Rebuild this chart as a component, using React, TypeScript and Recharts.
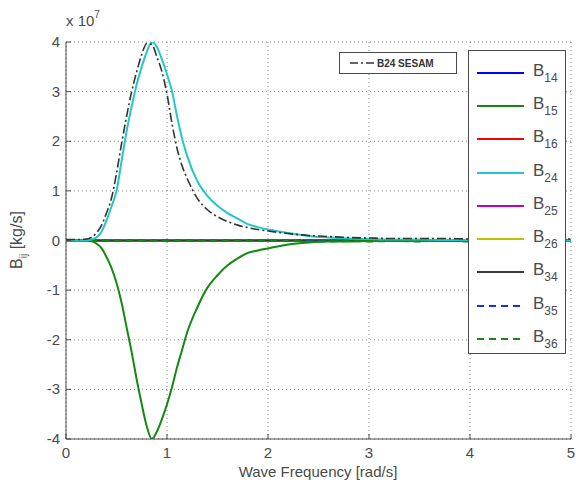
import { LineChart, Line, XAxis, YAxis, CartesianGrid, Legend } from 'recharts';

// wave frequency [rad/s]
const freq = [0, 0.1, 0.2, 0.25, 0.3, 0.35, 0.4, 0.45, 0.5, 0.55, 0.6, 0.65, 0.7, 0.75, 0.8, 0.85, 0.9, 0.95, 1.0, 1.05, 1.1, 1.15, 1.2, 1.3, 1.4, 1.5, 1.6, 1.7, 1.8, 1.9, 2.0, 2.2, 2.4, 2.6, 2.8, 3.0, 3.25, 3.5, 3.75, 4.0, 4.25, 4.5, 4.75, 5.0];

// damping coefficients, units of 1e7 kg/s
const b24 = [0, 0, 0, 0.02, 0.06, 0.17, 0.4, 0.68, 1.0, 1.6, 2.2, 2.7, 3.15, 3.5, 3.8, 4.0, 3.9, 3.65, 3.35, 3.0, 2.5, 2.05, 1.7, 1.2, 0.9, 0.7, 0.55, 0.44, 0.33, 0.27, 0.22, 0.15, 0.09, 0.06, 0.04, 0.03, 0.02, 0.02, 0.01, 0.01, 0.01, 0, 0, 0];
const b15 = [0, 0, 0, -0.01, -0.06, -0.15, -0.33, -0.55, -0.85, -1.25, -1.75, -2.25, -2.8, -3.3, -3.75, -4.0, -3.85, -3.6, -3.3, -2.95, -2.55, -2.2, -1.85, -1.35, -0.95, -0.7, -0.5, -0.36, -0.25, -0.2, -0.16, -0.08, -0.04, -0.02, -0.02, -0.01, -0.01, 0, -0.01, 0, 0, 0, 0, 0];
const b24Sesam = [0.02, 0.02, 0.03, 0.06, 0.15, 0.3, 0.55, 0.85, 1.35, 1.95, 2.5, 3.0, 3.4, 3.75, 3.97, 3.95, 3.7, 3.4, 2.95, 2.35, 1.85, 1.5, 1.25, 0.85, 0.62, 0.48, 0.38, 0.31, 0.26, 0.22, 0.19, 0.14, 0.1, 0.08, 0.06, 0.05, 0.04, 0.04, 0.04, 0.03, 0.03, 0.03, 0.03, 0.03];
const b14 = freq.map(() => 0);
const b16 = freq.map(() => 0);
const b25 = freq.map(() => 0);
const b26 = freq.map(() => 0);
const b34 = freq.map(() => 0);
const b35 = freq.map(() => 0);
const b36 = [0, 0, 0, 0, 0, 0, 0, 0, 0, 0, 0, 0, 0, 0, 0, 0, 0, 0, 0, 0, 0, 0, 0, 0, 0, 0, 0, 0, 0, 0, 0, 0, -0.02, -0.02, -0.01, -0.02, -0.01, -0.02, 0.01, -0.02, 0, -0.01, 0, 0];

const xTicks = [0, 1, 2, 3, 4, 5];
const yTicks = [-4, -3, -2, -1, 0, 1, 2, 3, 4];

const data = freq.map((w, i) => ({
  w,
  B14: b14[i], B15: b15[i], B16: b16[i], B24: b24[i], B25: b25[i],
  B26: b26[i], B34: b34[i], B35: b35[i], B36: b36[i], SESAM: b24Sesam[i],
}));

const SERIES = [
  { key: 'B14', sub: '14', color: '#0000ff', dash: undefined },
  { key: 'B15', sub: '15', color: '#128a12', dash: undefined },
  { key: 'B16', sub: '16', color: '#ff0000', dash: undefined },
  { key: 'B24', sub: '24', color: '#22c8c8', dash: undefined },
  { key: 'B25', sub: '25', color: '#c000c0', dash: undefined },
  { key: 'B26', sub: '26', color: '#c0c000', dash: undefined },
  { key: 'B34', sub: '34', color: '#3a3a3a', dash: undefined },
  { key: 'B35', sub: '35', color: '#1030ff', dash: '7 5' },
  { key: 'B36', sub: '36', color: '#128a12', dash: '7 5' },
];

// near-zero ones first so the big curves sit on top
const DRAW_ORDER = ['B14', 'B16', 'B25', 'B26', 'B34', 'B35', 'B36', 'B15', 'B24'];

const FONT = '"Liberation Sans", Arial, sans-serif';
const INK = '#4a4a4a';

function BottomTick({ x, y, payload }: any) {
  return (
    <g>
      <line x1={x} y1={y} x2={x} y2={y - 5} stroke={INK} />
      <text x={x} y={y + 19} textAnchor="middle" fontSize={15} fill={INK} fontFamily={FONT}>{payload.value}</text>
    </g>
  );
}

function TopTick({ x, y }: any) {
  return <line x1={x} y1={y} x2={x} y2={y + 5} stroke={INK} />;
}

function LeftTick({ x, y, payload }: any) {
  return (
    <g>
      <line x1={x} y1={y} x2={x + 5} y2={y} stroke={INK} />
      <text x={x - 6} y={y + 5} textAnchor="end" fontSize={15} fill={INK} fontFamily={FONT}>{payload.value}</text>
    </g>
  );
}

function RightTick({ x, y }: any) {
  return <line x1={x} y1={y} x2={x - 5} y2={y} stroke={INK} />;
}

function YLabel() {
  return (
    <text transform="translate(22,240) rotate(-90)" textAnchor="middle" fontSize={16} fill={INK} fontFamily={FONT}>
      B<tspan fontSize={10} dy={5}>ij</tspan><tspan dy={-5}> [kg/s]</tspan>
    </text>
  );
}

function LegendBoxes() {
  return (
    <div style={{ position: 'relative', width: 576, height: 484, fontFamily: FONT }}>
      <div style={{
        position: 'absolute', left: 339, top: 52, width: 118, height: 22, boxSizing: 'border-box',
        border: `1px solid ${INK}`, background: '#fff', display: 'flex', alignItems: 'center', gap: 3, paddingLeft: 10,
      }}>
        <svg width={24} height={6}>
          <line x1={0} y1={3} x2={24} y2={3} stroke="#333" strokeWidth={1.5} strokeDasharray="8 3 2 3" />
        </svg>
        <span style={{ fontSize: 10, fontWeight: 700, color: '#333' }}>B24 SESAM</span>
      </div>
      <div style={{
        position: 'absolute', left: 468, top: 50, width: 98, height: 304, boxSizing: 'border-box',
        border: `1px solid ${INK}`, background: '#fff', paddingTop: 5,
      }}>
        {SERIES.map((s) => (
          <div key={s.key} style={{ height: 33.3, display: 'flex', alignItems: 'center' }}>
            <svg width={56} height={6} style={{ marginLeft: 8 }}>
              <line x1={0} y1={3} x2={47} y2={3} stroke={s.color} strokeWidth={2} strokeDasharray={s.dash} />
            </svg>
            <span style={{ fontSize: 17, color: INK, lineHeight: 1 }}>
              B<sub style={{ fontSize: 12, verticalAlign: -6 }}>{s.sub}</sub>
            </span>
          </div>
        ))}
      </div>
    </div>
  );
}

export default function App() {
  return (
    <div style={{ position: 'absolute', left: 0, top: 0, width: 576, height: 484, background: '#fff' }}>
      <LineChart width={576} height={484} data={data} margin={{ top: 42, right: 5, left: 0, bottom: 0 }}>
        <CartesianGrid stroke="#8a8a8a" strokeDasharray="1 3" horizontalValues={yTicks} verticalValues={xTicks} />
        <XAxis dataKey="w" type="number" domain={[0, 5]} ticks={xTicks} height={45}
          axisLine={{ stroke: INK }} tickLine={false} tickSize={0} tickMargin={0} tick={<BottomTick />} />
        <XAxis xAxisId="top" orientation="top" type="number" domain={[0, 5]} ticks={xTicks} height={0}
          axisLine={{ stroke: INK }} tickLine={false} tickSize={0} tickMargin={0} tick={<TopTick />} />
        <YAxis type="number" domain={[-4, 4]} ticks={yTicks} width={66} allowDataOverflow
          axisLine={{ stroke: INK }} tickLine={false} tickSize={0} tickMargin={0} tick={<LeftTick />} />
        <YAxis yAxisId="right" orientation="right" type="number" domain={[-4, 4]} ticks={yTicks} width={0}
          axisLine={{ stroke: INK }} tickLine={false} tickSize={0} tickMargin={0} tick={<RightTick />} />
        {DRAW_ORDER.map((k) => {
          const s = SERIES.find((d) => d.key === k)!;
          return (
            <Line key={k} dataKey={k} type="monotone" stroke={s.color} strokeWidth={2}
              strokeDasharray={s.dash} dot={false} isAnimationActive={false} />
          );
        })}
        <Line dataKey="SESAM" type="monotone" stroke="#333" strokeWidth={1.6} strokeDasharray="9 3 2 3"
          dot={false} isAnimationActive={false} />
        <Legend layout="horizontal" verticalAlign="middle" align="center" content={<LegendBoxes />}
          wrapperStyle={{ left: 0, top: 0, width: 576, height: 484, pointerEvents: 'none' }} />
        <YLabel />
        <text x={66} y={26} fontSize={15} fill={INK} fontFamily={FONT}>
          x 10<tspan fontSize={10} dy={-8}>7</tspan>
        </text>
        <text x={318} y={477} textAnchor="middle" fontSize={15} fill={INK} fontFamily={FONT}>Wave Frequency [rad/s]</text>
      </LineChart>
    </div>
  );
}
